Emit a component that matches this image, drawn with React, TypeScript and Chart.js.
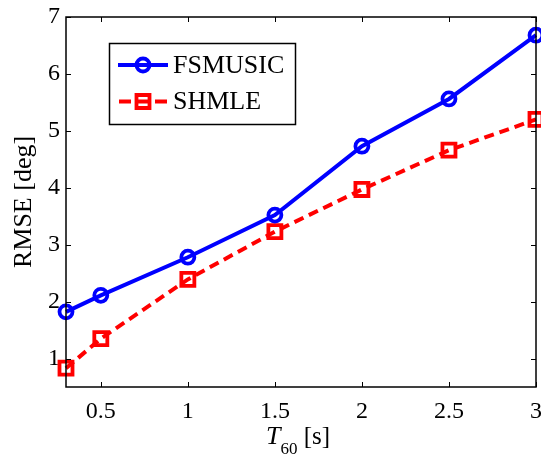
import React, { useEffect, useRef } from "react";
import { Chart, registerables } from "chart.js";
Chart.register(...registerables);

const t60 = [0.3, 0.5, 1, 1.5, 2, 2.5, 3];
const fsmusic = [1.82, 2.11, 2.78, 3.52, 4.73, 5.56, 6.68];
const shmle = [0.83, 1.35, 2.39, 3.23, 3.97, 4.66, 5.2];
const xTicks = [0.5, 1, 1.5, 2, 2.5, 3];
const yTicks = [1, 2, 3, 4, 5, 6, 7];
const seriesNames = ["FSMUSIC", "SHMLE"];
const yTitle = "RMSE [deg]";
const xTitleMain = "T";
const xTitleSub = "60";
const xTitleUnit = " [s]";

const FONT = "'Liberation Serif', 'Times New Roman', serif";

const framePlugin = {
  id: "framePlugin",
  afterDraw(chart: any) {
    const ctx = chart.ctx;
    const a = chart.chartArea;
    const xs = chart.scales.x;
    const ys = chart.scales.y;
    ctx.save();
    ctx.strokeStyle = "#000";
    ctx.lineWidth = 1;
    const tl = 5;
    xs.ticks.forEach((t: any) => {
      const px = Math.round(xs.getPixelForValue(t.value)) + 0.5;
      ctx.beginPath();
      ctx.moveTo(px, a.bottom);
      ctx.lineTo(px, a.bottom - tl);
      ctx.moveTo(px, a.top);
      ctx.lineTo(px, a.top + tl);
      ctx.stroke();
    });
    ys.ticks.forEach((t: any) => {
      const py = Math.round(ys.getPixelForValue(t.value)) + 0.5;
      ctx.beginPath();
      ctx.moveTo(a.left, py);
      ctx.lineTo(a.left + tl, py);
      ctx.moveTo(a.right, py);
      ctx.lineTo(a.right - tl, py);
      ctx.stroke();
    });
    ctx.lineWidth = 1.5;
    ctx.strokeRect(a.left, a.top, a.right - a.left, a.bottom - a.top);

    // x title with subscript
    ctx.fillStyle = "#000";
    ctx.textBaseline = "alphabetic";
    ctx.textAlign = "left";
    const fMain = "italic 26px " + FONT;
    const fSub = "17px " + FONT;
    const fUnit = "25px " + FONT;
    ctx.font = fMain;
    const wT = ctx.measureText(xTitleMain).width;
    ctx.font = fSub;
    const wS = ctx.measureText(xTitleSub).width;
    ctx.font = fUnit;
    const wU = ctx.measureText(xTitleUnit).width;
    const total = wT + wS + wU;
    let x0 = (a.left + a.right) / 2 - 3 - total / 2;
    const base = 444;
    ctx.font = fMain;
    ctx.fillText(xTitleMain, x0, base);
    x0 += wT;
    ctx.font = fSub;
    ctx.fillText(xTitleSub, x0, base + 10);
    x0 += wS;
    ctx.font = fUnit;
    ctx.fillText(xTitleUnit, x0, base);

    // legend
    const lx = 109.5, ly = 43.5, lw = 186, lh = 81;
    ctx.fillStyle = "#fff";
    ctx.fillRect(lx, ly, lw, lh);
    ctx.strokeStyle = "#000";
    ctx.lineWidth = 1.5;
    ctx.strokeRect(lx, ly, lw, lh);
    const rows = [65, 101.5];
    chart.data.datasets.forEach((ds: any, i: number) => {
      const cy = rows[i];
      ctx.save();
      ctx.strokeStyle = ds.borderColor;
      ctx.lineWidth = ds.borderWidth;
      ctx.setLineDash([]);
      ctx.beginPath();
      if (ds.borderDash && ds.borderDash.length) {
        ctx.moveTo(119, cy); ctx.lineTo(131, cy);
        ctx.moveTo(137, cy); ctx.lineTo(149, cy);
        ctx.moveTo(155, cy); ctx.lineTo(167, cy);
      } else {
        ctx.moveTo(118, cy);
        ctx.lineTo(168, cy);
      }
      ctx.stroke();
      ctx.lineWidth = ds.pointBorderWidth;
      ctx.beginPath();
      if (ds.pointStyle === "rect") {
        const s = Math.SQRT1_2 * ds.pointRadius;
        ctx.rect(143 - s, cy - s, 2 * s, 2 * s);
      } else {
        ctx.arc(143, cy, ds.pointRadius, 0, Math.PI * 2);
      }
      ctx.stroke();
      ctx.restore();
      ctx.fillStyle = "#000";
      ctx.font = "26px " + FONT;
      ctx.textBaseline = "middle";
      ctx.fillText(ds.label, 173, cy + 1);
    });
    ctx.restore();
  },
};

const zeroPad = (s: any) => {
  s.paddingTop = 0;
  s.paddingBottom = 0;
  s.paddingLeft = 0;
  s.paddingRight = 0;
};

export default function App() {
  const ref = useRef<HTMLCanvasElement>(null);
  useEffect(() => {
    if (!ref.current) return;
    const chart = new Chart(ref.current, {
      type: "line",
      data: {
        datasets: [
          {
            label: seriesNames[0],
            data: t60.map((x, i) => ({ x, y: fsmusic[i] })),
            borderColor: "#0000ff",
            backgroundColor: "rgba(0,0,0,0)",
            borderWidth: 4,
            pointStyle: "circle",
            pointRadius: 6.5,
            pointBorderWidth: 3.8,
            pointBorderColor: "#0000ff",
            pointBackgroundColor: "rgba(0,0,0,0)",
            tension: 0,
          },
          {
            label: seriesNames[1],
            data: t60.map((x, i) => ({ x, y: shmle[i] })),
            borderColor: "#ff0000",
            backgroundColor: "rgba(0,0,0,0)",
            borderWidth: 4,
            borderDash: [10, 6],
            pointStyle: "rect",
            pointRadius: 9.2,
            pointBorderWidth: 3.8,
            pointBorderColor: "#ff0000",
            pointBackgroundColor: "rgba(0,0,0,0)",
            tension: 0,
          },
        ],
      },
      options: {
        responsive: false,
        animation: false,
        clip: false as any,
        layout: { padding: { top: 17, right: 0, left: 0, bottom: 0 } },
        plugins: { legend: { display: false }, tooltip: { enabled: false } },
        scales: {
          x: {
            type: "linear",
            min: 0.3,
            max: 3,
            grid: { display: false, drawTicks: false },
            border: { display: false },
            afterBuildTicks: (s: any) => {
              s.ticks = xTicks.map((v) => ({ value: v }));
            },
            afterFit: (s: any) => {
              s.height = 69;
              zeroPad(s);
            },
            ticks: {
              color: "#000",
              font: { family: FONT, size: 24 },
              padding: 10,
              maxRotation: 0,
              callback: (v: any) => String(v),
            },
          },
          y: {
            type: "linear",
            min: 0.5,
            max: 7,
            grid: { display: false, drawTicks: false },
            border: { display: false },
            afterBuildTicks: (s: any) => {
              s.ticks = yTicks.map((v) => ({ value: v }));
            },
            afterFit: (s: any) => {
              s.width = 66;
              zeroPad(s);
            },
            ticks: {
              color: "#000",
              font: { family: FONT, size: 24 },
              padding: 6,
              callback: (v: any) => String(v),
            },
            title: {
              display: true,
              text: yTitle,
              color: "#000",
              font: { family: FONT, size: 26 },
              padding: { top: 9, bottom: 0 },
            },
          },
        },
      },
      plugins: [framePlugin],
    });
    return () => chart.destroy();
  }, []);
  return (
    <div style={{ position: "fixed", left: 0, top: 0, width: 541, height: 456, overflow: "hidden" }}>
      <canvas ref={ref} width={549} height={456} />
    </div>
  );
}
